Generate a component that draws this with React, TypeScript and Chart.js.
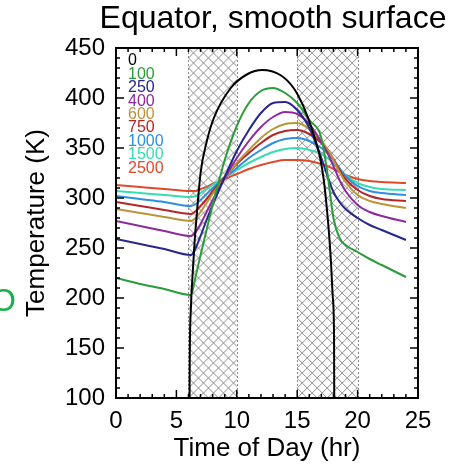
import React, { useEffect, useRef } from "react";
import { Chart, registerables } from "chart.js";
Chart.register(...registerables);

const FONT = "'Liberation Sans', Arial, Helvetica, sans-serif";

const chartTitle = "Equator, smooth surface";
const xAxisTitle = "Time of Day (hr)";
const yAxisTitle = "Temperature (K)";
const sideMark = "O";

const xMin = 0;
const xMax = 25;
const yMin = 100;
const yMax = 450;

// shaded (hatched) intervals, hours
const hatchBands = [
  [6, 10],
  [15, 20],
];

const seriesLabels = ["0", "100", "250", "400", "600", "750", "1000", "1500", "2500"];
const seriesColors = [
  "#000000",
  "#2a9d3a",
  "#26268c",
  "#8e2a9e",
  "#b9953a",
  "#b3262a",
  "#2d8fe0",
  "#38dcb2",
  "#e04a2a",
];

// zero thermal inertia curve
const hoursZero = [0, 6.06, 6.1, 6.2, 6.35, 6.5, 6.7, 7.0, 7.5, 8.1, 9.5, 10.9, 12.1, 13.6, 14.7, 15.5, 16.3, 16.9, 17.2, 17.45, 17.65, 17.8, 17.95, 18.05, 18.09, 24];
const temp0 = [0, 0, 130, 190, 225, 255, 285, 325, 356, 380, 410, 424, 428, 423, 410, 392, 366, 340, 318, 290, 262, 235, 200, 160, 0, 0];

// other curves
const hours = [0, 2, 4, 6.2, 6.6, 7, 7.5, 8, 8.5, 9, 10, 11, 12, 13, 14, 15, 16, 17, 17.5, 18, 18.5, 19, 20, 21, 22, 24];
const temp100 = [220, 214, 209, 203, 222, 243, 268, 293, 316, 338, 372, 395, 407, 410, 405, 395, 378, 360, 325, 280, 260, 253, 246, 239, 233, 221];
const temp250 = [259, 254, 249, 243, 250, 262, 278, 293, 307, 321, 347, 368, 385, 395, 396, 388, 370, 340, 322, 306, 296, 289, 280, 273, 268, 258];
const temp400 = [277, 272, 267, 262, 266, 274, 286, 298, 309, 320, 340, 357, 371, 381, 386, 384, 374, 356, 345, 332, 318, 307, 293, 286, 282, 276];
const temp600 = [289, 285, 281, 277, 280, 286, 295, 304, 312, 320, 335, 348, 360, 369, 374, 375, 369, 357, 349, 338, 326, 316, 303, 297, 294, 290];
const temp750 = [296, 292, 288, 284, 287, 292, 299, 307, 314, 321, 334, 345, 355, 363, 367, 368, 364, 355, 348, 339, 328, 319, 308, 302, 299, 297];
const temp1000 = [302, 299, 296, 292, 294, 298, 304, 310, 315, 320, 330, 340, 348, 355, 359, 360, 357, 350, 345, 338, 330, 322, 312, 307, 305, 303];
const temp1500 = [307, 305, 303, 301, 302, 305, 309, 313, 317, 321, 328, 335, 341, 346, 349, 350, 348, 344, 340, 335, 329, 323, 315, 311, 309, 308];
const temp2500 = [313, 311, 309, 307, 307, 309, 311, 314, 316, 319, 324, 329, 333, 336, 338, 338, 337, 334, 332, 329, 326, 323, 319, 317, 316, 315];

const otherSeries = [temp100, temp250, temp400, temp600, temp750, temp1000, temp1500, temp2500];

const hatchPlugin = {
  id: "hatch",
  beforeDatasetsDraw(chart: any) {
    const { ctx, chartArea } = chart;
    const xs = chart.scales.x;
    const top = chartArea.top;
    const bottom = chartArea.bottom;
    const h = bottom - top;
    hatchBands.forEach(([a, b]) => {
      const x1 = xs.getPixelForValue(a);
      const x2 = xs.getPixelForValue(b);
      ctx.save();
      ctx.beginPath();
      ctx.rect(x1, top, x2 - x1, h);
      ctx.clip();
      ctx.strokeStyle = "#8e8e8e";
      ctx.lineWidth = 1;
      ctx.beginPath();
      for (let k = -h - 10; k < x2 - x1 + 10; k += 10) {
        ctx.moveTo(x1 + k, bottom);
        ctx.lineTo(x1 + k + h, top);
        ctx.moveTo(x1 + k, top);
        ctx.lineTo(x1 + k + h, bottom);
      }
      ctx.stroke();
      ctx.restore();
      ctx.save();
      ctx.strokeStyle = "#888888";
      ctx.lineWidth = 1;
      ctx.setLineDash([2, 2]);
      ctx.beginPath();
      [x1, x2].forEach((x) => {
        ctx.moveTo(Math.round(x) + 0.5, top);
        ctx.lineTo(Math.round(x) + 0.5, bottom);
      });
      ctx.stroke();
      ctx.restore();
    });
  },
};

const framePlugin = {
  id: "frame",
  afterDatasetsDraw(chart: any) {
    const { ctx, chartArea } = chart;
    const xs = chart.scales.x;
    const ys = chart.scales.y;
    const { left, right, top, bottom } = chartArea;
    ctx.save();
    ctx.strokeStyle = "#000";
    ctx.lineWidth = 1.5;
    ctx.beginPath();
    for (let v = xMin; v <= xMax; v += 1) {
      const x = xs.getPixelForValue(v);
      const len = v % 5 === 0 ? 8 : 4;
      ctx.moveTo(x, bottom);
      ctx.lineTo(x, bottom - len);
      ctx.moveTo(x, top);
      ctx.lineTo(x, top + len);
    }
    for (let v = yMin; v <= yMax; v += 10) {
      const y = ys.getPixelForValue(v);
      const len = v % 50 === 0 ? 8 : 4;
      ctx.moveTo(left, y);
      ctx.lineTo(left + len, y);
      ctx.moveTo(right, y);
      ctx.lineTo(right - len, y);
    }
    ctx.stroke();
    ctx.lineWidth = 2;
    ctx.strokeRect(left, top, right - left, bottom - top);
    ctx.restore();
  },
  afterDraw(chart: any) {
    const { ctx, chartArea } = chart;
    ctx.save();
    // title
    ctx.fillStyle = "#000";
    ctx.font = `32px ${FONT}`;
    ctx.textAlign = "center";
    ctx.textBaseline = "alphabetic";
    ctx.fillText(chartTitle, 273, 28);
    // legend labels
    ctx.font = `16px ${FONT}`;
    ctx.textAlign = "left";
    ctx.textBaseline = "middle";
    seriesLabels.forEach((lab, i) => {
      ctx.fillStyle = seriesColors[i];
      ctx.fillText(lab, chartArea.left + 12, 61 + i * 13.4);
    });
    // partial mark from neighbouring panel
    ctx.fillStyle = "#1db04a";
    ctx.font = `32px ${FONT}`;
    ctx.textAlign = "right";
    ctx.textBaseline = "middle";
    ctx.fillText(sideMark, 16, 302);
    ctx.restore();
  },
};

export default function App() {
  const ref = useRef<HTMLCanvasElement | null>(null);
  useEffect(() => {
    const canvas = ref.current;
    if (!canvas) return;
    const datasets: any[] = [];
    datasets.push({
      label: seriesLabels[0],
      data: hoursZero.map((h, i) => ({ x: h, y: temp0[i] })),
      borderColor: seriesColors[0],
      borderWidth: 2,
      pointRadius: 0,
      cubicInterpolationMode: "monotone",
    });
    otherSeries.forEach((vals, k) => {
      datasets.push({
        label: seriesLabels[k + 1],
        data: hours.map((h, i) => ({ x: h, y: vals[i] })),
        borderColor: seriesColors[k + 1],
        borderWidth: 2,
        pointRadius: 0,
        cubicInterpolationMode: "monotone",
      });
    });
    const chart = new Chart(canvas, {
      type: "line",
      data: { datasets },
      plugins: [hatchPlugin, framePlugin],
      options: {
        animation: false,
        responsive: false,
        devicePixelRatio: 1,
        layout: { padding: { top: 48, right: 33, bottom: 0, left: 0 } },
        plugins: {
          legend: { display: false },
          title: { display: false },
          tooltip: { enabled: false },
        },
        scales: {
          x: {
            type: "linear",
            min: xMin,
            max: xMax,
            grid: { display: false, drawTicks: false },
            border: { display: false },
            ticks: {
              stepSize: 5,
              color: "#000",
              padding: 9,
              font: { family: FONT, size: 24 },
              maxRotation: 0,
            },
            title: {
              display: true,
              text: xAxisTitle,
              color: "#000",
              font: { family: FONT, size: 26, lineHeight: 1.2 },
              padding: { top: 0, bottom: 2 },
            },
            afterFit: (s: any) => {
              s.height = 68;
            },
          },
          y: {
            type: "linear",
            min: yMin,
            max: yMax,
            grid: { display: false, drawTicks: false },
            border: { display: false },
            ticks: {
              stepSize: 50,
              color: "#000",
              padding: 11,
              font: { family: FONT, size: 24 },
            },
            title: {
              display: true,
              text: yAxisTitle,
              color: "#000",
              font: { family: FONT, size: 26, lineHeight: 1.2 },
              padding: { top: 21, bottom: 0 },
            },
            afterFit: (s: any) => {
              s.width = 116;
            },
          },
        },
      } as any,
    });
    return () => chart.destroy();
  }, []);
  return (
    <div style={{ position: "absolute", left: 0, top: 0, width: 451, height: 466, background: "#fff" }}>
      <canvas ref={ref} width={451} height={466} style={{ width: 451, height: 466, display: "block" }} />
    </div>
  );
}
